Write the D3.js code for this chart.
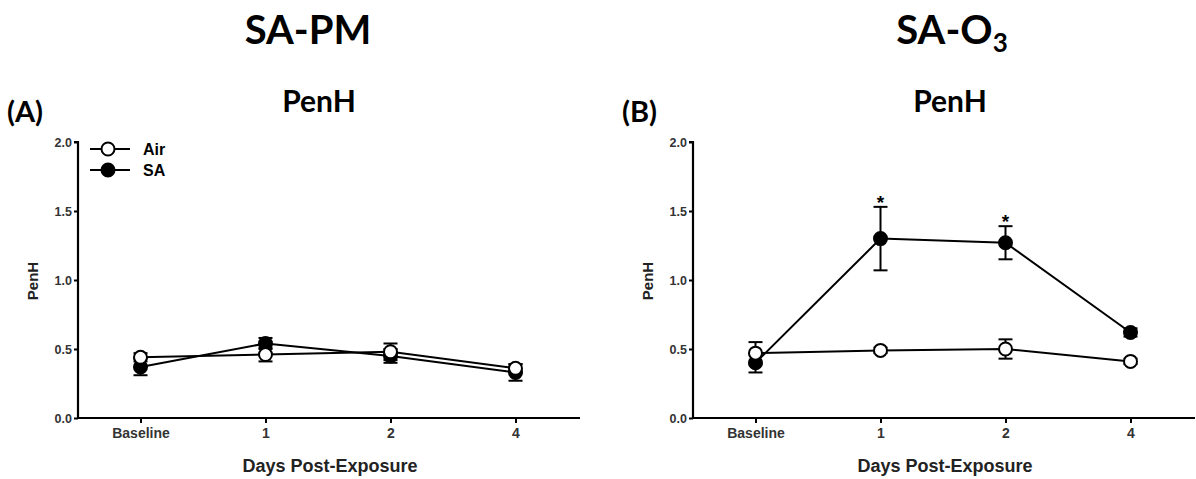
<!DOCTYPE html>
<html>
<head>
<meta charset="utf-8">
<script src="https://cdn.jsdelivr.net/npm/d3@7"></script>
<style>
  body { margin: 0; background: #fff; }
  text { font-family: "Liberation Sans", Arial, sans-serif; font-weight: bold; }
</style>
</head>
<body>
<div id="chart"></div>
<script>
// Data
const days = ['Baseline', '1', '2', '4']
const yTicks = [0, 0.5, 1.0, 1.5, 2.0]

const pmAir = [0.44, 0.46, 0.48, 0.36]
const pmAirErr = [0.03, 0.05, 0.06, 0.03]
const pmSA = [0.37, 0.54, 0.45, 0.33]
const pmSAErr = [0.06, 0.04, 0.05, 0.06]

const o3Air = [0.47, 0.49, 0.50, 0.41]
const o3AirErr = [0.08, 0.02, 0.07, 0.02]
const o3SA = [0.40, 1.30, 1.27, 0.62]
const o3SAErr = [0.07, 0.23, 0.12, 0.03]
const o3Stars = ['', '*', '*', '']

// Dimensions
let dimensions = {
  width: 1196,
  height: 479,
  top: 142,
  bottom: 418
}

const svg = d3.select('#chart')
  .append('svg')
  .attr('width', dimensions.width)
  .attr('height', dimensions.height)

const yScale = d3.scaleLinear()
  .domain([0, 2])
  .range([dimensions.bottom, dimensions.top])

// Headings
function heading(x, main, sub) {
  const t = svg.append('text')
    .attr('x', x)
    .attr('y', 44)
    .attr('text-anchor', 'middle')
    .style('font-family', 'Lato, "Open Sans", sans-serif')
    .style('font-size', '40px')
    .text(main)
  if (sub) {
    t.append('tspan')
      .attr('dy', 8)
      .style('font-size', '26px')
      .text(sub)
  }
}
heading(308, 'SA-PM')
heading(952, 'SA-O', '3')

function panel(opts) {
  const ctr = svg.append('g')

  const xScale = d3.scalePoint()
    .domain(days)
    .range([opts.x0, opts.x0 + 500])
    .padding(0.5)

  // panel letter and title
  ctr.append('text')
    .attr('x', opts.x0 - 71)
    .attr('y', 122)
    .style('font-family', 'Lato, "Open Sans", sans-serif')
    .style('font-size', '29px')
    .text(opts.letter)

  ctr.append('text')
    .attr('x', opts.x0 + opts.titleDx)
    .attr('y', 112)
    .attr('text-anchor', 'middle')
    .style('font-family', 'Lato, "Open Sans", sans-serif')
    .style('font-size', '30px')
    .text('PenH')

  // axes
  const yAxis = d3.axisLeft(yScale)
    .tickValues(yTicks)
    .tickFormat(d3.format('.1f'))
    .tickSize(4)
    .tickPadding(2)

  const yG = ctr.append('g')
    .attr('transform', `translate(${opts.x0}, 0)`)
    .call(yAxis)
  yG.select('.domain').attr('stroke-width', 2.2).attr('d', `M-4,${dimensions.top}H0V${dimensions.bottom}`)
  yG.selectAll('.tick text').style('font-size', '12.5px')

  const xAxis = d3.axisBottom(xScale)
    .tickSize(5)
    .tickPadding(5)

  const xG = ctr.append('g')
    .attr('transform', `translate(0, ${dimensions.bottom})`)
    .call(xAxis)
  xG.select('.domain').attr('stroke-width', 2.2).attr('d', `M${opts.x0},0H${opts.x0 + 502}`)
  xG.selectAll('.tick text').style('font-size', '14px')

  ctr.selectAll('.tick line').attr('stroke-width', 2)
  ctr.selectAll('.tick text').attr('fill', '#333')

  ctr.append('text')
    .attr('transform', `translate(${opts.x0 - 40}, 281) rotate(-90)`)
    .attr('text-anchor', 'middle')
    .style('font-size', '15px')
    .attr('fill', '#222')
    .text('PenH')

  ctr.append('text')
    .attr('x', opts.x0 + 252)
    .attr('y', 472)
    .attr('text-anchor', 'middle')
    .style('font-size', '18px')
    .attr('fill', '#222')
    .text('Days Post-Exposure')

  // series
  const line = d3.line()
    .x((d, i) => xScale(days[i]))
    .y(d => yScale(d))

  function series(values, errs, filled) {
    const g = ctr.append('g')
    g.append('path')
      .datum(values)
      .attr('d', line)
      .attr('fill', 'none')
      .attr('stroke', '#000')
      .attr('stroke-width', 2)

    const eb = g.selectAll('.eb')
      .data(values)
      .join('g')
    eb.append('line')
      .attr('x1', (d, i) => xScale(days[i]))
      .attr('x2', (d, i) => xScale(days[i]))
      .attr('y1', (d, i) => yScale(d + errs[i]))
      .attr('y2', (d, i) => yScale(d - errs[i]))
      .attr('stroke', '#000')
      .attr('stroke-width', 2)
    ;[1, -1].forEach(s => {
      eb.append('line')
        .attr('x1', (d, i) => xScale(days[i]) - 7)
        .attr('x2', (d, i) => xScale(days[i]) + 7)
        .attr('y1', (d, i) => yScale(d + s * errs[i]))
        .attr('y2', (d, i) => yScale(d + s * errs[i]))
        .attr('stroke', '#000')
        .attr('stroke-width', 2)
    })

    g.selectAll('circle')
      .data(values)
      .join('circle')
      .attr('cx', (d, i) => xScale(days[i]))
      .attr('cy', d => yScale(d))
      .attr('r', 6.5)
      .attr('fill', filled ? '#000' : '#fff')
      .attr('stroke', '#000')
      .attr('stroke-width', 2)
  }

  series(opts.sa, opts.saErr, true)
  series(opts.air, opts.airErr, false)

  if (opts.stars) {
    ctr.selectAll('.star')
      .data(opts.sa)
      .join('text')
      .attr('x', (d, i) => xScale(days[i]))
      .attr('y', (d, i) => yScale(d + opts.saErr[i]) + 2)
      .attr('text-anchor', 'middle')
      .style('font-size', '19px')
      .text((d, i) => opts.stars[i])
  }

  if (opts.legend) {
    const lg = ctr.append('g')
    const items = [['Air', false], ['SA', true]]
    items.forEach(([name, filled], i) => {
      const y = 149 + i * 21
      lg.append('line')
        .attr('x1', opts.x0 + 12).attr('x2', opts.x0 + 52)
        .attr('y1', y).attr('y2', y)
        .attr('stroke', '#000').attr('stroke-width', 2)
      lg.append('circle')
        .attr('cx', opts.x0 + 30).attr('cy', y).attr('r', 6.5)
        .attr('fill', filled ? '#000' : '#fff')
        .attr('stroke', '#000').attr('stroke-width', 2)
      lg.append('text')
        .attr('x', opts.x0 + 65).attr('y', y + 6)
        .style('font-size', '16px')
        .text(name)
    })
  }
}

panel({ x0: 78, letter: '(A)', titleDx: 241, air: pmAir, airErr: pmAirErr, sa: pmSA, saErr: pmSAErr, legend: true })
panel({ x0: 693, letter: '(B)', titleDx: 257, air: o3Air, airErr: o3AirErr, sa: o3SA, saErr: o3SAErr, stars: o3Stars })
</script>
</body>
</html>
